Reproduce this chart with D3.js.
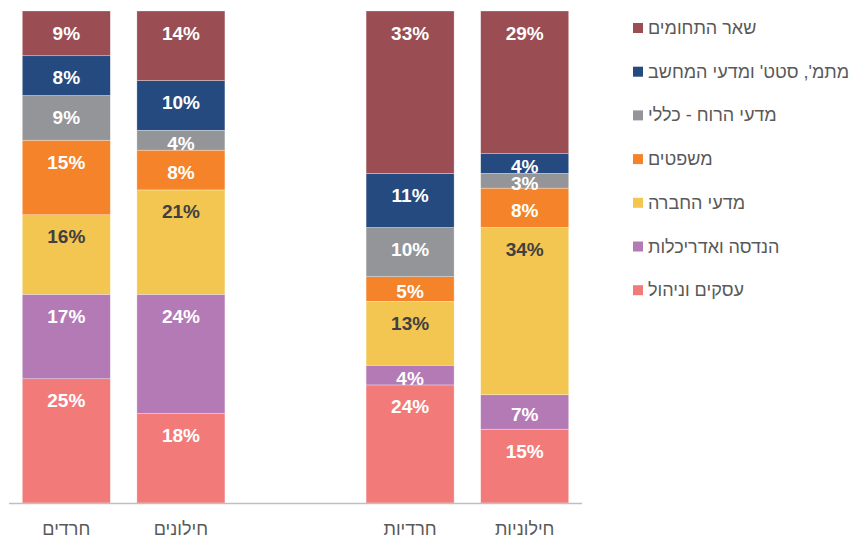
<!DOCTYPE html>
<html lang="he">
<head>
<meta charset="utf-8">
<script src="https://cdn.jsdelivr.net/npm/d3@7"></script>
<style>
  html, body { margin: 0; padding: 0; background: #fff; }
  svg { display: block; font-family: "Liberation Sans", Arial, sans-serif; }
</style>
</head>
<body>
<svg id="chart" width="858" height="536"></svg>
<script>
// Groups of bars (a gap separates the men from the women)
const groupMen = ["חרדים", "חילונים"];
const groupWomen = ["חרדיות", "חילוניות"];
const categories = groupMen.concat(groupWomen);

// Fields of study, stacked from the bottom up
const fields = [
  "עסקים וניהול",
  "הנדסה ואדריכלות",
  "מדעי החברה",
  "משפטים",
  "מדעי הרוח - כללי",
  "מתמ', סטט' ומדעי המחשב",
  "שאר התחומים"
];

// Share (%) per field, in the order of `categories`
const business     = [25, 18, 24, 15];
const engineering  = [17, 24, 4, 7];
const social       = [16, 21, 13, 34];
const law          = [15, 8, 5, 8];
const humanities   = [9, 4, 10, 3];
const mathCs       = [8, 10, 11, 4];
const otherFields  = [9, 14, 33, 29];

const seriesValues = [business, engineering, social, law, humanities, mathCs, otherFields];

const colors = ["#F27B7A", "#B47AB5", "#F2C651", "#F5832A", "#949598", "#244A80", "#9A4D53"];
const darkLabelField = "מדעי החברה";

// Build rows for d3.stack
const rows = categories.map((c, i) => {
  const r = { category: c };
  fields.forEach((f, j) => { r[f] = seriesValues[j][i]; });
  return r;
});

const stacked = d3.stack()
  .keys(fields)
  .offset(d3.stackOffsetExpand)(rows);

const svg = d3.select("#chart");

const plotLeft = 9, plotRight = 582, plotTop = 11, plotBottom = 503;
const spacer = "\u200b";

const x = d3.scaleBand()
  .domain(groupMen.concat([spacer], groupWomen))
  .range([plotLeft, plotRight])
  .paddingInner(0.232)
  .paddingOuter(0.116);

const y = d3.scaleLinear().domain([0, 1]).range([plotBottom, plotTop]);
const color = d3.scaleOrdinal().domain(fields).range(colors);

// Bars
const layers = svg.append("g").selectAll("g")
  .data(stacked)
  .join("g")
  .attr("fill", d => color(d.key));

layers.selectAll("rect")
  .data(d => d.map(p => Object.assign(p, { key: d.key })))
  .join("rect")
  .attr("x", d => x(d.data.category))
  .attr("width", x.bandwidth())
  .attr("y", d => y(d[1]))
  .attr("height", d => y(d[0]) - y(d[1]))
  .attr("stroke", "#ffffff")
  .attr("stroke-opacity", 0.5)
  .attr("stroke-width", 0.6);

// Value labels
layers.selectAll("text")
  .data(d => d)
  .join("text")
  .attr("x", d => x(d.data.category) + x.bandwidth() / 2)
  .attr("y", d => {
    const top = y(d[1]);
    const h = y(d[0]) - top;
    return top + Math.min(22, h / 2 + 3);
  })
  .attr("text-anchor", "middle")
  .attr("dominant-baseline", "central")
  .attr("font-size", 19)
  .attr("font-weight", "bold")
  .attr("fill", d => d.key === darkLabelField ? "#404040" : "#ffffff")
  .text(d => d.data[d.key] + "%");

// Baseline axis
const axis = svg.append("g")
  .attr("transform", `translate(0,${plotBottom})`)
  .call(d3.axisBottom(x).tickSize(0).tickPadding(16)
    .tickFormat(d => d === spacer ? "" : d));
axis.select(".domain")
  .attr("stroke", "#BFBFBF")
  .attr("stroke-width", 1.3)
  .attr("d", `M${plotLeft},0.5H${plotRight}`);
axis.selectAll(".tick text")
  .attr("font-size", 18)
  .attr("font-family", "'Liberation Sans', Arial, sans-serif")
  .attr("fill", "#595959")
  .attr("direction", "rtl")
  .attr("dy", "0.9em");

// Legend, top entry first
const legendFields = fields.slice().reverse();
const legend = svg.append("g").attr("transform", "translate(633,0)");
const item = legend.selectAll("g")
  .data(legendFields)
  .join("g")
  .attr("transform", (d, i) => `translate(0,${28 + i * 43.7})`);

item.append("rect")
  .attr("x", 0).attr("y", -5)
  .attr("width", 10).attr("height", 10)
  .attr("fill", d => color(d));

item.append("text")
  .attr("x", 15)
  .attr("y", 0)
  .attr("direction", "rtl")
  .attr("text-anchor", "end")
  .attr("dominant-baseline", "central")
  .attr("font-size", 18)
  .attr("fill", "#595959")
  .text(d => d);
</script>
</body>
</html>
